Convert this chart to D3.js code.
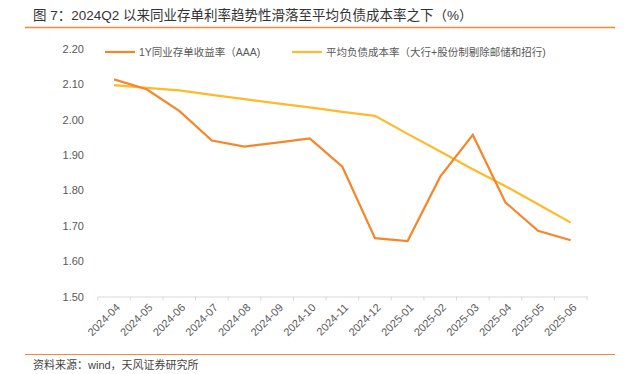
<!DOCTYPE html>
<html>
<head>
<meta charset="utf-8">
<script src="https://cdn.jsdelivr.net/npm/d3@7"></script>
<style>
  body { margin: 0; background: #fff; }
  svg text { font-family: "Liberation Sans", "Noto Sans CJK SC", sans-serif; }
</style>
</head>
<body>
<div id="chart"></div>
<script>
// ---- data ----
const months = ["2024-04","2024-05","2024-06","2024-07","2024-08","2024-09","2024-10","2024-11",
                "2024-12","2025-01","2025-02","2025-03","2025-04","2025-05","2025-06"];
const ncdYield = [2.114, 2.086, 2.025, 1.941, 1.924, 1.935, 1.947, 1.867,
                  1.665, 1.657, 1.839, 1.957, 1.766, 1.686, 1.659];
const liabilityCost = [2.098, 2.090, 2.083, 2.070, 2.058, 2.046, 2.035, 2.022,
                       2.011, 1.960, 1.910, 1.860, 1.812, 1.761, 1.709];
const yTicks = [1.5, 1.6, 1.7, 1.8, 1.9, 2.0, 2.1, 2.2];
const seriesNames = ["1Y同业存单收益率（AAA)", "平均负债成本率（大行+股份制剔除邮储和招行)"];

const width = 640, height = 374;
const orange = "#F5862A", yellow = "#FDBA2C";

const svg = d3.select("#chart").append("svg")
    .attr("width", width).attr("height", height);

// title
svg.append("text")
    .attr("x", 33).attr("y", 20)
    .attr("font-size", 13.5).attr("fill", "#333")
    .text("图 7：2024Q2 以来同业存单利率趋势性滑落至平均负债成本率之下（%）");
svg.append("line")
    .attr("x1", 25).attr("x2", 615).attr("y1", 27.5).attr("y2", 27.5)
    .attr("stroke", "#EE8A3C").attr("stroke-width", 1.5);

// scales
const x = d3.scaleBand().domain(months).range([97.7, 587]);
const y = d3.scaleLinear().domain([1.5, 2.2]).range([296.5, 49]);

// y axis (labels only)
svg.append("g")
    .attr("transform", "translate(88,0)")
    .call(d3.axisLeft(y).tickValues(yTicks).tickFormat(d3.format(".2f")).tickSize(0).tickPadding(4))
    .call(g => g.select(".domain").remove())
    .call(g => g.selectAll("text").attr("font-size", 11).attr("fill", "#595959")
        .attr("font-family", "Liberation Sans, sans-serif"));

// x axis
const xg = svg.append("g")
    .attr("transform", `translate(0,${y(1.5)})`)
    .call(d3.axisBottom(x).tickSize(0).tickPadding(0));
xg.select(".domain").attr("stroke", "#D9D9D9").attr("stroke-width", 1.2);
// ticks at band edges
xg.selectAll(".edge")
    .data(months.concat(["_end"]))
    .enter().append("line")
    .attr("x1", (d, i) => x.range()[0] + i * x.step())
    .attr("x2", (d, i) => x.range()[0] + i * x.step())
    .attr("y1", 0).attr("y2", 4)
    .attr("stroke", "#D9D9D9");
xg.selectAll(".tick text")
    .attr("font-size", 11).attr("fill", "#595959")
    .attr("font-family", "Liberation Sans, sans-serif")
    .attr("text-anchor", "end")
    .attr("dy", "0.35em")
    .attr("transform", "translate(4,9) rotate(-45)");

// lines
const line = d3.line()
    .x((d, i) => x(months[i]) + x.bandwidth() / 2)
    .y(d => y(d));

svg.append("path").datum(liabilityCost)
    .attr("d", line).attr("fill", "none")
    .attr("stroke", yellow).attr("stroke-width", 2.2);
svg.append("path").datum(ncdYield)
    .attr("d", line).attr("fill", "none")
    .attr("stroke", orange).attr("stroke-width", 2.2);

// legend
const legend = [
    { name: seriesNames[0], color: orange, x: 105 },
    { name: seriesNames[1], color: yellow, x: 292 }
];
const lg = svg.selectAll(".legend").data(legend).enter().append("g")
    .attr("transform", d => `translate(${d.x},52)`);
lg.append("line").attr("x1", 0).attr("x2", 30).attr("y1", 0).attr("y2", 0)
    .attr("stroke", d => d.color).attr("stroke-width", 2.2);
lg.append("text").attr("x", 34).attr("y", 4)
    .attr("font-size", 10.5).attr("fill", "#595959")
    .text(d => d.name);

// source
svg.append("line")
    .attr("x1", 25).attr("x2", 615).attr("y1", 354.5).attr("y2", 354.5)
    .attr("stroke", "#EE8A3C").attr("stroke-width", 1.2);
svg.append("text")
    .attr("x", 33).attr("y", 369)
    .attr("font-size", 11).attr("fill", "#444")
    .text("资料来源：wind，天风证券研究所");
</script>
</body>
</html>
